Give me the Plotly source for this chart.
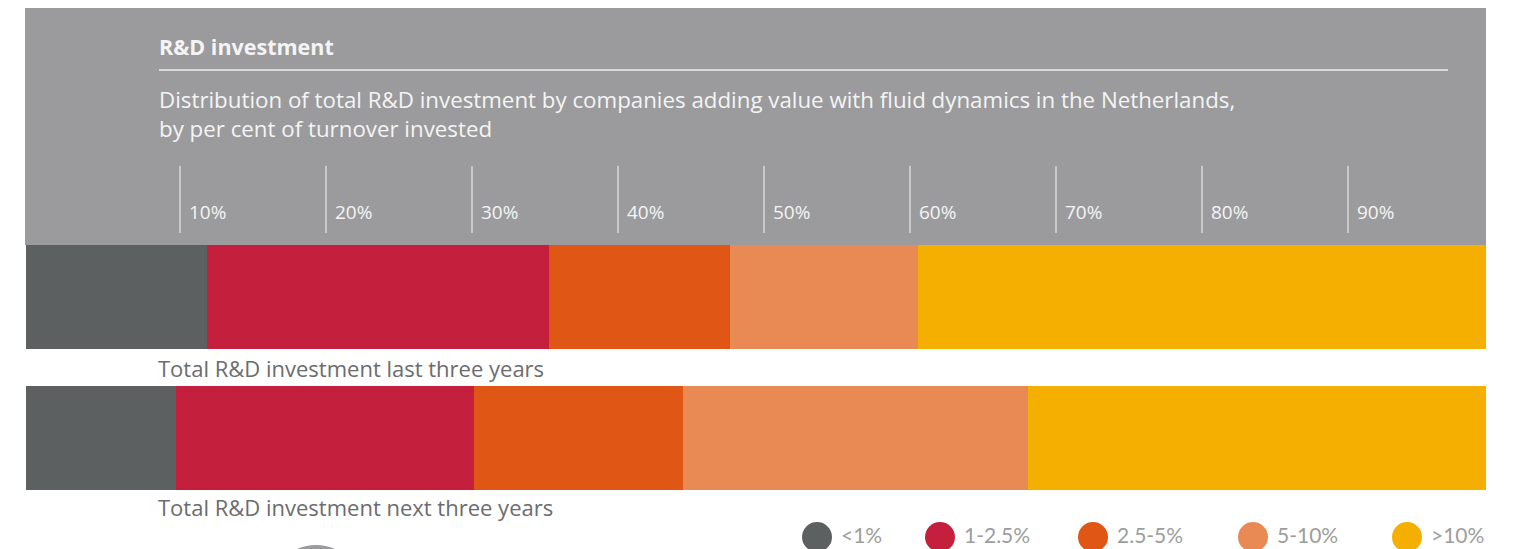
import plotly.graph_objects as go

# ---- data ----
periods = ["Total R&D investment last three years", "Total R&D investment next three years"]
categories = ["<1%", "1-2.5%", "2.5-5%", "5-10%", ">10%"]
share_last = [12.4, 23.4, 12.4, 12.9, 38.9]
share_next = [10.3, 20.4, 14.3, 23.6, 31.4]
tick_values = [10, 20, 30, 40, 50, 60, 70, 80, 90]
tick_labels = ["10%", "20%", "30%", "40%", "50%", "60%", "70%", "80%", "90%"]
title = "R&D investment"
subtitle = ("Distribution of total R&D investment by companies adding value with fluid dynamics in the Netherlands,"
            "<br>by per cent of turnover invested")

# ---- style ----
colors = ["#5d6061", "#c51f3e", "#e05614", "#e98a54", "#f5af00"]
W, H = 1515, 549
OFF = 8  # page body margin
FONT = "Open Sans"
LEG_FONT = "Lato"
panel_gray = "#9b9b9d"
white_txt = "#f4f4f4"


def px(x):
    return (x - OFF) / W


def py(y):
    return 1 - (y - OFF) / H


# y-axis range in category units so bars sit at page rows 297 and 438 (141 px apart)
row0, row_gap = 297 - OFF, 141
y_top = 0 - row0 / row_gap
y_bot = y_top + H / row_gap

fig = go.Figure()
for i, cat in enumerate(categories):
    fig.add_trace(go.Bar(
        y=[0, 1], x=[share_last[i], share_next[i]], orientation="h",
        name=cat, marker=dict(color=colors[i], line=dict(width=0)),
        width=104 / row_gap, showlegend=False, hoverinfo="skip",
    ))

shapes = []
annotations = []

# grey header panel
shapes.append(dict(type="rect", xref="paper", yref="paper", x0=px(25), x1=px(1486),
                   y0=py(245), y1=py(8), fillcolor=panel_gray, line=dict(width=0), layer="below"))
# title rule
shapes.append(dict(type="line", xref="paper", yref="paper", x0=px(159), x1=px(1448),
                   y0=py(70), y1=py(70), line=dict(color="#eeeeee", width=1.5)))
annotations.append(dict(text="<b>" + title + "</b>", xref="paper", yref="paper", x=px(157), y=py(47),
                        xanchor="left", yanchor="middle", showarrow=False,
                        font=dict(family=FONT, size=21.5, color=white_txt)))
annotations.append(dict(text=subtitle, xref="paper", yref="paper", x=px(157), y=py(114),
                        xanchor="left", yanchor="middle", align="left", showarrow=False,
                        font=dict(family=FONT, size=22.3, color=white_txt)))

# tick lines and labels
for t, lab in zip(tick_values, tick_labels):
    shapes.append(dict(type="line", xref="x", yref="paper", xsizemode="pixel", xanchor=t,
                       x0=8, x1=8, y0=py(233), y1=py(166),
                       line=dict(color="#e2e2e2", width=1.3)))
    annotations.append(dict(text=lab, xref="x", yref="paper", x=t, xshift=15, y=py(212),
                            xanchor="left", yanchor="middle", showarrow=False,
                            font=dict(family=FONT, size=19, color=white_txt)))

# bar labels
for lab, yy in zip(periods, [368, 507]):
    annotations.append(dict(text=lab, xref="paper", yref="paper", x=px(156), y=py(yy),
                            xanchor="left", yanchor="middle", showarrow=False,
                            font=dict(family=FONT, size=22, color="#6b6c6e")))

# legend (circles + labels)
legend_x = [817, 940, 1093, 1253, 1407]
r = 15
for cx, cat, col in zip(legend_x, categories, colors):
    shapes.append(dict(type="circle", xref="paper", yref="paper", x0=px(cx - r), x1=px(cx + r),
                       y0=py(537 + r), y1=py(537 - r), fillcolor=col, line=dict(width=0)))
    annotations.append(dict(text=cat, xref="paper", yref="paper", x=px(cx + 22), y=py(534),
                            xanchor="left", yanchor="middle", showarrow=False,
                            font=dict(family=LEG_FONT, size=21, color="#9d9d9d")))

# partial grey ellipse at bottom-left
shapes.append(dict(type="circle", xref="paper", yref="paper", x0=px(268), x1=px(364),
                   y0=py(641), y1=py(545), fillcolor="#9b9b9d", line=dict(width=0)))

fig.update_layout(
    width=W, height=H, margin=dict(l=0, r=0, t=0, b=0),
    paper_bgcolor="white", plot_bgcolor="rgba(0,0,0,0)",
    barmode="stack", bargap=0,
    xaxis=dict(range=[0, 100], domain=[px(26), px(1486)], visible=False, fixedrange=True),
    yaxis=dict(range=[y_bot, y_top], domain=[0, 1], visible=False, fixedrange=True),
    shapes=shapes, annotations=annotations, showlegend=False,
    font=dict(family=FONT),
)
fig.write_html("out.html", config={"displayModeBar": False})
